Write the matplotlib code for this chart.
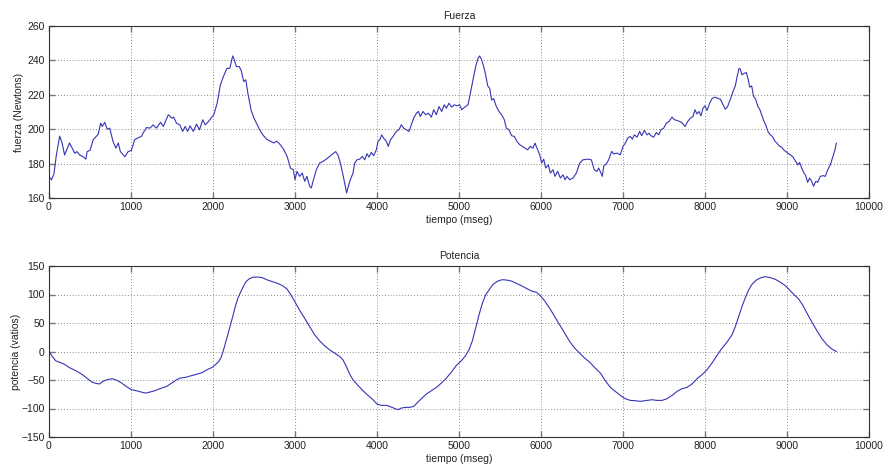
import matplotlib
matplotlib.use("Agg")
import matplotlib.pyplot as plt

# ---------------- data ----------------
t_fuerza = [0, 30, 60, 90, 130, 160, 190, 250, 315, 340, 375, 415, 450, 465, 500, 540, 580, 600,
            630, 650, 680, 710, 740, 780, 815, 845, 870, 925, 965, 1005, 1045, 1090, 1130, 1150,
            1190, 1230, 1270, 1310, 1360, 1395, 1455, 1500, 1520, 1555, 1595, 1630, 1660, 1690,
            1720, 1760, 1800, 1835, 1875, 1905, 1945, 1985, 2010, 2050, 2090, 2130, 2170, 2205,
            2240, 2255, 2285, 2320, 2345, 2375, 2400, 2425, 2465, 2500, 2540, 2580, 2620, 2660,
            2700, 2740, 2780, 2820, 2865, 2905, 2945, 2980, 3000, 3024, 3057, 3089, 3118, 3146,
            3179, 3199, 3220, 3260, 3300, 3341, 3382, 3423, 3463, 3496, 3524, 3553, 3585, 3610,
            3630, 3650, 3675, 3707, 3728, 3756, 3789, 3821, 3850, 3878, 3902, 3931, 3959, 3992,
            4012, 4033, 4057, 4081, 4114, 4138, 4163, 4195, 4236, 4268, 4297, 4325, 4358, 4390,
            4419, 4447, 4480, 4504, 4528, 4561, 4593, 4626, 4663, 4691, 4724, 4756, 4789, 4821,
            4846, 4878, 4911, 4943, 4976, 5008, 5033, 5069, 5110, 5138, 5171, 5203, 5232, 5252,
            5276, 5301, 5325, 5350, 5374, 5398, 5423, 5455, 5488, 5520, 5553, 5577, 5610, 5642,
            5675, 5707, 5740, 5772, 5805, 5837, 5870, 5902, 5927, 5951, 5984, 6008, 6033, 6057,
            6089, 6114, 6146, 6171, 6203, 6236, 6268, 6293, 6317, 6350, 6390, 6431, 6472, 6512,
            6573, 6614, 6650, 6683, 6703, 6732, 6748, 6764, 6797, 6825, 6862, 6886, 6927, 6967,
            7000, 7028, 7057, 7089, 7114, 7138, 7171, 7203, 7228, 7260, 7293, 7317, 7341, 7374,
            7407, 7435, 7463, 7496, 7528, 7561, 7598, 7626, 7659, 7691, 7724, 7756, 7789, 7821,
            7854, 7878, 7902, 7927, 7951, 7976, 8000, 8024, 8057, 8089, 8122, 8154, 8187, 8220,
            8248, 8276, 8309, 8341, 8370, 8390, 8415, 8431, 8451, 8480, 8504, 8528, 8545, 8569,
            8593, 8618, 8642, 8667, 8691, 8715, 8740, 8772, 8797, 8821, 8854, 8878, 8902, 8935,
            8959, 8984, 9008, 9041, 9073, 9106, 9130, 9154, 9179, 9203, 9228, 9252, 9276, 9301,
            9325, 9350, 9374, 9407, 9439, 9468, 9496, 9528, 9561, 9585, 9602]
fuerza = [172.6, 170.5, 174, 185, 196, 192, 185, 192, 186, 187, 185, 184, 182.6, 187, 187.7, 194, 196, 197,
          203.5, 201.6, 204, 200, 200.6, 193, 189, 192, 187, 184, 187, 187.7, 194, 195, 196, 198,
          201, 200.6, 202.5, 200.6, 204, 201.6, 208.4, 206.4, 207, 203.5, 202.5, 198.7, 201.6, 198.7,
          202, 198.7, 203, 199.6, 205.5, 202.5, 204.5, 207, 208.4, 215, 225.8, 231, 235.4, 235.4,
          242.6, 241, 236.4, 236.4, 234, 227.7, 228.7, 221, 211, 206.4, 202.5, 198.7, 196, 194,
          193, 192, 193, 191, 188, 184, 177.4, 176.4, 170.6, 175.5, 172.6, 174.5, 169.7, 172.6,
          166.8, 165.8, 169.7, 176.4, 180.3, 181.3, 182.6, 184.2, 185.7, 187, 185, 180.3, 173.5, 167.7,
          162.9, 166.8, 170.6, 174.5, 180.3, 182.2, 182.6, 184.2, 182.2, 185.7, 183.8, 186.5, 184.6, 188,
          192.9, 193.8, 196.7, 194.8, 192.9, 190, 193.8, 195.8, 198.7, 199.7, 202.6, 200.6, 199.7, 198.7,
          202.6, 206.4, 209.3, 210.3, 207.4, 210.3, 208.4, 209.3, 207, 211.3, 208.4, 213.2, 210.3, 214.2,
          212.2, 215.1, 212.8, 214.2, 213.6, 214.2, 211.3, 212.8, 214.2, 221, 228.7, 236.4, 241.2, 242.6,
          240.3, 236.4, 231.6, 225.2, 223.8, 217, 217.8, 213.2, 210.3, 208.4, 205.5, 200.6, 199.7, 196.2,
          195.8, 192.9, 191, 190, 189, 188, 190, 189, 191.9, 189, 185.1, 180.3, 182.6, 177.4,
          179.3, 174.5, 176.4, 172.6, 175.5, 171.6, 173.5, 170.6, 172.6, 170.6, 171.6, 174.5, 180.3, 182.2,
          182.6, 182.2, 176.4, 175.5, 177.4, 174.5, 172.6, 178.4, 179.9, 182.2, 187.1, 185.7, 186.1, 185.1,
          190, 191.9, 194.8, 195.8, 194.2, 196.7, 195.4, 198.7, 196.2, 199.3, 196.7, 197.7, 196.2, 195.4,
          198.1, 196.7, 199.7, 200.6, 203.5, 204.5, 207, 205.5, 205.1, 204.5, 203.5, 201.6, 204.5, 206.4,
          207.4, 211.3, 208.9, 210.3, 207.8, 212.2, 213.6, 210.9, 215.1, 218, 218.6, 218, 217.4, 214.2,
          211.6, 213.2, 217.4, 221.9, 225.2, 230.2, 235.4, 234.9, 231.6, 232.5, 232.9, 228.7, 224.4, 225.2,
          219, 217.4, 213.6, 211.6, 208.4, 205.1, 202.6, 198.1, 196.7, 195.8, 192.9, 191.9, 190.4, 189.6,
          188, 187.1, 186.1, 185.1, 183.8, 181.3, 179.3, 180.7, 177.4, 174.9, 173, 169.1, 171.6, 169.7,
          166.8, 169.7, 169.1, 172.6, 173, 172.6, 176.4, 179.3, 184.2, 188, 191.9]

t_potencia = [0, 41, 82, 123, 184, 246, 328, 410, 471, 525, 574, 615, 656, 717, 770, 820, 881, 943,
              1004, 1066, 1127, 1180, 1230, 1291, 1352, 1434, 1496, 1557, 1598, 1660, 1721, 1803,
              1865, 1926, 1988, 2029, 2070, 2098, 2123, 2152, 2180, 2213, 2246, 2275, 2303, 2336,
              2369, 2402, 2439, 2480, 2541, 2602, 2664, 2725, 2787, 2848, 2902, 2951, 2992, 3025,
              3066, 3118, 3179, 3240, 3300, 3362, 3423, 3484, 3545, 3585, 3626, 3667, 3707, 3768,
              3829, 3890, 3951, 4000, 4053, 4114, 4154, 4203, 4256, 4297, 4350, 4398, 4447, 4488,
              4541, 4602, 4663, 4724, 4785, 4846, 4907, 4967, 5028, 5081, 5122, 5163, 5203, 5244,
              5285, 5325, 5366, 5415, 5476, 5528, 5577, 5638, 5699, 5760, 5821, 5882, 5943, 5992,
              6045, 6106, 6167, 6228, 6289, 6350, 6411, 6472, 6533, 6593, 6654, 6724, 6785, 6846,
              6907, 6967, 7028, 7089, 7150, 7211, 7272, 7354, 7415, 7476, 7537, 7598, 7659, 7720,
              7780, 7841, 7902, 7963, 8024, 8085, 8146, 8207, 8268, 8329, 8370, 8411, 8451, 8492,
              8532, 8573, 8626, 8683, 8736, 8797, 8858, 8919, 8980, 9020, 9081, 9142, 9195, 9244,
              9305, 9366, 9427, 9488, 9549, 9602]
potencia = [0, -8.8, -16.3, -18.7, -22, -28, -33.8, -40.8, -47.8, -53.7, -56, -57, -52.5, -49, -47.8, -50, -54.8, -61.3,
            -67, -68.8, -71.2, -73, -71.2, -68.8, -65.3, -61.3, -55.4, -49.6, -46.7, -45.5, -43, -39.7,
            -37.3, -32, -28, -23.3, -17.5, -10.5, 0, 14.6, 29.2, 46.7, 64.2, 80.5, 93.3, 103.9,
            113.8, 122.5, 127.2, 130.1, 130.7, 129.5, 125.4, 122.5, 119.6, 115.5, 109.7, 99.2, 88.7, 80.5,
            70, 58.3, 43.8, 29.2, 18.7, 9.9, 2.9, -2.9, -8.8, -14.6, -26.3, -39.7, -49.6, -59.5,
            -68.8, -77, -84.6, -92.2, -94.5, -94.5, -96.3, -99.2, -102.1, -99.2, -98, -98, -96.3, -90.4,
            -82.8, -74.7, -68.8, -63, -55.4, -46.7, -36.2, -24.5, -16.3, -7, 2.9, 18.7, 40.8, 64.2,
            84.6, 99.2, 107.9, 117.9, 123.7, 126, 125.4, 123.7, 119.6, 115.5, 110.9, 106.2, 103.9, 98,
            88.7, 75.8, 61.3, 46.7, 32.1, 17.5, 5.8, -2.9, -11.7, -18.7, -28, -37.9, -51.3, -63,
            -70, -77, -82.8, -85.8, -86.3, -87.5, -86.3, -84.6, -85.8, -85.8, -82.8, -77, -70, -65.3,
            -63, -57.2, -47.8, -40.8, -32.1, -20.4, -7, 5.8, 16.3, 29.2, 43.8, 61.3, 78.8, 94.5,
            107.9, 117.9, 125.4, 129.5, 131.3, 129.5, 126.6, 121.4, 115.5, 109.7, 100.4, 92.2, 80.5, 67.1,
            51.3, 36.2, 22.2, 11.7, 4.1, 0]

titles = ["Fuerza", "Potencia"]
ylabels = ["fuerza (Newtons)", "potencia (vatios)"]
xlabel = "tiempo (mseg)"
xticks = [0, 1000, 2000, 3000, 4000, 5000, 6000, 7000, 8000, 9000, 10000]
yticks_f = [160, 180, 200, 220, 240, 260]
yticks_p = [-150, -100, -50, 0, 50, 100, 150]

# ---------------- style ----------------
plt.rcParams['font.family'] = ['Liberation Sans', 'DejaVu Sans']
plt.rcParams['font.size'] = 7.5
line_color = '#3535b5'

fig = plt.figure(figsize=(8.85, 4.71), dpi=100, facecolor='white')
ax1 = fig.add_axes([49/885, 1-198/471, 820/885, 172/471])
ax2 = fig.add_axes([49/885, 1-437/471, 820/885, 171/471])

setups = [(ax1, t_fuerza, fuerza, titles[0], ylabels[0], yticks_f, -0.0305, 5),
          (ax2, t_potencia, potencia, titles[1], ylabels[1], yticks_p, -0.0341, 5)]
for ax, t, y, title, ylab, yt, lx, tpad in setups:
    ax.plot(t, y, color=line_color, lw=0.8)
    ax.set_xlim(0, 10000)
    ax.set_ylim(yt[0], yt[-1])
    ax.set_xticks(xticks)
    ax.set_yticks(yt)
    ax.set_title(title, fontsize=7.5, pad=tpad, color='#222222')
    ax.set_xlabel(xlabel, fontsize=7.5, labelpad=2, color='#222222')
    ax.set_ylabel(ylab, fontsize=7.5, color='#222222')
    ax.yaxis.set_label_coords(lx, 0.5)
    ax.grid(True, linestyle=(0, (1, 2.5)), color='#666666', lw=0.6)
    ax.tick_params(direction='in', length=4, width=1.0, color='#777777',
                   top=True, right=True, labelsize=7.5, labelcolor='#222222', pad=3)
    for s in ax.spines.values():
        s.set_color('#333333')
        s.set_linewidth(0.8)

fig.savefig("out.png", dpi=100, facecolor='white')
